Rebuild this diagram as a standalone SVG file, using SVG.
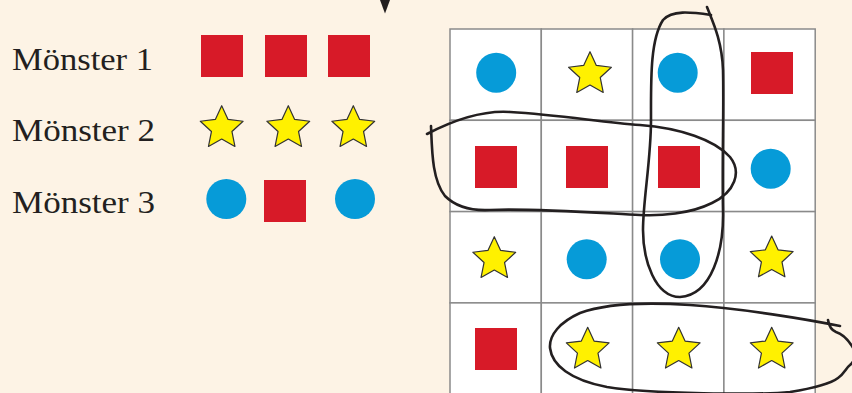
<svg xmlns="http://www.w3.org/2000/svg" xmlns:xlink="http://www.w3.org/1999/xlink" width="852" height="393" viewBox="0 0 852 393">
<style>
.bg{fill:#fdf3e5}
.lbl{font-family:"Liberation Serif","Times New Roman",serif;font-size:32px;fill:#231f20}
.sq{fill:#d71a28}
.ci{fill:#069bd8}
.st{fill:#fff100;stroke:#333333;stroke-width:1.2;stroke-linejoin:round}
.cell{fill:#ffffff;stroke:#8a8a8a;stroke-width:1.5}
.loop{fill:none;stroke:#231f20;stroke-width:2.6;stroke-linecap:round;stroke-linejoin:round}
</style>
<defs>
<rect id="sqr" class="sq" x="0" y="0" width="42" height="42"/>
<circle id="dot" class="ci" cx="0" cy="0" r="20"/>
<polygon id="star" class="st" points="0,-22.5 6.35,-8.74 21.4,-6.95 10.27,3.34 13.23,18.2 0,10.8 -13.23,18.2 -10.27,3.34 -21.4,-6.95 -6.35,-8.74"/>
</defs>
<rect class="bg" x="0" y="0" width="852" height="393"/>
<polygon id="pointer" points="380,0 390,0 385,13.5" fill="#231f20"/>

<g id="legend-1">
<text class="lbl" x="12" y="70" textLength="141" lengthAdjust="spacingAndGlyphs">Mönster 1</text>
<use xlink:href="#sqr" x="201" y="35"/>
<use xlink:href="#sqr" x="265" y="35"/>
<use xlink:href="#sqr" x="328" y="35"/>
</g>
<g id="legend-2">
<text class="lbl" x="12" y="141" textLength="143" lengthAdjust="spacingAndGlyphs">Mönster 2</text>
<use xlink:href="#star" x="221.7" y="128.2"/>
<use xlink:href="#star" x="288.3" y="128.2"/>
<use xlink:href="#star" x="353.3" y="128.2"/>
</g>
<g id="legend-3">
<text class="lbl" x="12" y="213" textLength="143" lengthAdjust="spacingAndGlyphs">Mönster 3</text>
<use xlink:href="#dot" x="226.3" y="199"/>
<use xlink:href="#sqr" x="264" y="180"/>
<use xlink:href="#dot" x="355" y="199"/>
</g>

<g id="grid">
<rect class="cell" x="450" y="29" width="91.3" height="91.3"/>
<rect class="cell" x="541.3" y="29" width="91.3" height="91.3"/>
<rect class="cell" x="632.6" y="29" width="91.3" height="91.3"/>
<rect class="cell" x="723.9" y="29" width="91.3" height="91.3"/>
<rect class="cell" x="450" y="120.3" width="91.3" height="91.3"/>
<rect class="cell" x="541.3" y="120.3" width="91.3" height="91.3"/>
<rect class="cell" x="632.6" y="120.3" width="91.3" height="91.3"/>
<rect class="cell" x="723.9" y="120.3" width="91.3" height="91.3"/>
<rect class="cell" x="450" y="211.6" width="91.3" height="91.3"/>
<rect class="cell" x="541.3" y="211.6" width="91.3" height="91.3"/>
<rect class="cell" x="632.6" y="211.6" width="91.3" height="91.3"/>
<rect class="cell" x="723.9" y="211.6" width="91.3" height="91.3"/>
<rect class="cell" x="450" y="302.9" width="91.3" height="91.3"/>
<rect class="cell" x="541.3" y="302.9" width="91.3" height="91.3"/>
<rect class="cell" x="632.6" y="302.9" width="91.3" height="91.3"/>
<rect class="cell" x="723.9" y="302.9" width="91.3" height="91.3"/>
</g>

<g id="cell-shapes">
<use xlink:href="#dot" x="496.2" y="72.7"/>
<use xlink:href="#star" x="590" y="74.2"/>
<use xlink:href="#dot" x="677.7" y="72.7"/>
<use xlink:href="#sqr" x="751" y="52"/>

<use xlink:href="#sqr" x="475" y="146"/>
<use xlink:href="#sqr" x="566" y="146"/>
<use xlink:href="#sqr" x="658" y="146"/>
<use xlink:href="#dot" x="770.7" y="168.7"/>

<use xlink:href="#star" x="494.3" y="259.2"/>
<use xlink:href="#dot" x="586.7" y="259.3"/>
<use xlink:href="#dot" x="680" y="259.3"/>
<use xlink:href="#star" x="771.7" y="258.6"/>

<use xlink:href="#sqr" x="475" y="328"/>
<use xlink:href="#star" x="587.7" y="349.8"/>
<use xlink:href="#star" x="678.7" y="349.8"/>
<use xlink:href="#star" x="771.7" y="349.8"/>
</g>

<g id="loops">
<path class="loop" d="M 427,134 C 450,122 480,110 510,112 C 560,115 600,122 640,125 C 680,128 715,140 730,157 C 742,172 735,192 712,203 C 690,214 660,216 640,215 C 600,213 530,208 490,210 C 470,211 455,206 445,196 C 432,180 432,150 431,126"/>
<path class="loop" d="M 707,7 C 712,20 722,40 723,70 C 724,110 722,160 723,210 C 724,250 712,295 680,297 C 655,297 643,260 643,230 C 643,200 651,160 651,120 C 651,80 650,40 663,20 C 672,10 690,12 711,15"/>
<path class="loop" d="M 840,326 C 810,320 740,308 690,305 C 660,303 610,302 580,313 C 560,322 549,335 550,348 C 552,365 570,380 607,387 C 650,394 760,395 790,392 C 815,388 830,384 838,378 C 844,374 846,368 850,365 C 856,360 856,352 852,346 C 848,340 843,334 836,332 C 831,330 829,326 828,320"/>
</g>
</svg>
